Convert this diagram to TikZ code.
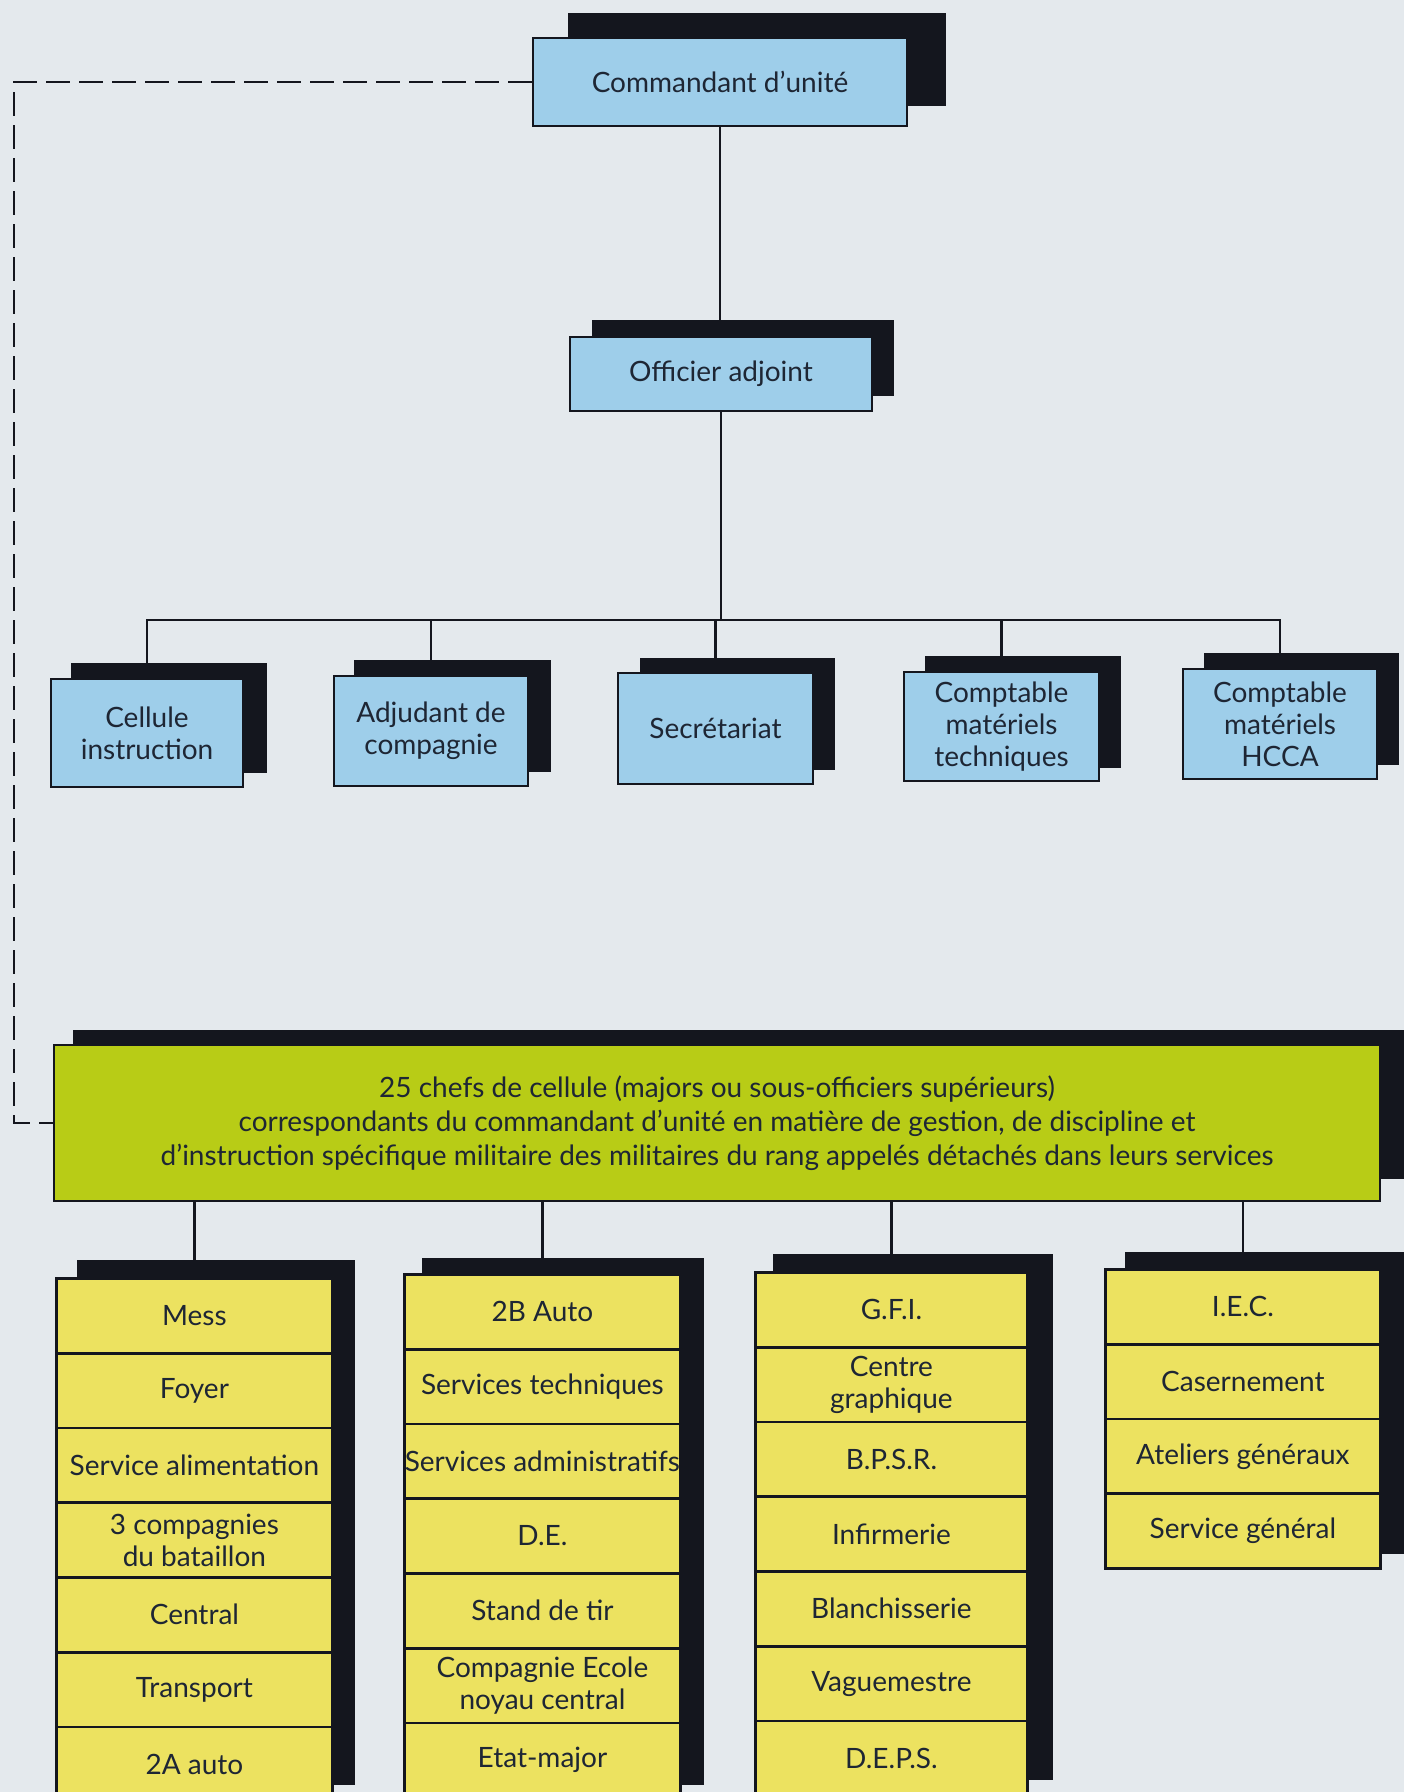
\documentclass[tikz,border=0pt]{standalone}
\usepackage{fontspec}
\setmainfont{Lato}
\definecolor{bgc}{RGB}{228,233,237}
\definecolor{bluec}{RGB}{158,206,234}
\definecolor{greenc}{RGB}{184,204,22}
\definecolor{yellowc}{RGB}{236,226,96}
\definecolor{inkc}{RGB}{20,22,30}
\definecolor{txtc}{RGB}{30,38,52}
\newcommand\boxfont{\fontsize{28}{32}\selectfont}
\pgfdeclarelayer{backlayer}
\pgfdeclarelayer{linklayer}
\pgfsetlayers{backlayer,linklayer,main}
\tikzset{
  box/.style={draw=inkc, line width=2.8pt, text=txtc, align=center, inner sep=0pt, font=\boxfont},
  bluebox/.style={box, fill=bluec},
  greenbox/.style={box, fill=greenc},
  cell/.style={box, fill=yellowc, anchor=north west, minimum height=74.75},
  shadowfill/.style={fill=inkc},
  link/.style={draw=inkc, line width=2.4pt},
  dashlink/.style={link, dash pattern=on 24pt off 9pt},
}
\begin{document}
\begin{tikzpicture}[x=1pt,y=-1pt]
\useasboundingbox (0,0) rectangle (1404,1792);
\clip (0,0) rectangle (1404,1792);
\begin{pgfonlayer}{backlayer}
\fill[bgc] (0,0) rectangle (1404,1792);
\end{pgfonlayer}

% top
\fill[shadowfill] (568,13) rectangle (946,106);
\node[bluebox, minimum width=374, minimum height=88] (cmd) at (720,82) {Commandant d'unité};
\fill[shadowfill] (592,320) rectangle (894,396);
\node[bluebox, minimum width=302, minimum height=74] (off) at (721,374) {Officier adjoint};

% second row
\fill[shadowfill] (71,663) rectangle (267,773);
\node[bluebox, minimum width=192, minimum height=108] (b1) at (147,733) {Cellule\\instruction};
\fill[shadowfill] (354,660) rectangle (551,772);
\node[bluebox, minimum width=194, minimum height=110] (b2) at (431,731) {Adjudant de\\compagnie};
\fill[shadowfill] (640,658) rectangle (835,770);
\node[bluebox, minimum width=195, minimum height=111] (b3) at (715.5,728.5) {Secrétariat};
\fill[shadowfill] (925,656) rectangle (1121,768);
\node[bluebox, minimum width=195, minimum height=109] (b4) at (1001.5,726.5) {Comptable\\matériels\\techniques};
\fill[shadowfill] (1204,653) rectangle (1399,765);
\node[bluebox, minimum width=194, minimum height=110] (b5) at (1280,724) {Comptable\\matériels\\HCCA};

% green
\fill[shadowfill] (73,1030) rectangle (1404,1179);
\node[greenbox, minimum width=1326, minimum height=156, font=\fontsize{28}{34}\selectfont] (green) at (717,1123)
 {25 chefs de cellule (majors ou sous-officiers supérieurs)\\
  correspondants du commandant d'unité en matière de gestion, de discipline et\\
  d'instruction spécifique militaire des militaires du rang appelés détachés dans leurs services};

% columns
\fill[shadowfill] (77,1260) rectangle (355,1785);
\begin{scope}[every node/.append style={minimum width=276}]
\foreach \txt [count=\i from 0] in {Mess,Foyer,Service alimentation,{3 compagnies\\du bataillon},Central,Transport,2A auto}
  \node[cell] (a\i) at (55,{1277+74.75*\i}) {\txt};
\end{scope}
\fill[shadowfill] (422,1258) rectangle (704,1785);
\begin{scope}[every node/.append style={minimum width=276}]
\foreach \txt [count=\i from 0] in {2B Auto,Services techniques,Services administratifs,D.E.,Stand de tir,{Compagnie Ecole\\noyau central},Etat-major}
  \node[cell] (c\i) at (403,{1273+74.75*\i}) {\txt};
\end{scope}
\fill[shadowfill] (773,1254) rectangle (1053,1780);
\begin{scope}[every node/.append style={minimum width=272}]
\foreach \txt [count=\i from 0] in {G.F.I.,{Centre\\graphique},B.P.S.R.,Infirmerie,Blanchisserie,Vaguemestre,D.E.P.S.}
  \node[cell] (e\i) at (754,{1271+74.75*\i}) {\txt};
\end{scope}
\fill[shadowfill] (1125,1252) rectangle (1404,1554);
\begin{scope}[every node/.append style={minimum width=275}]
\foreach \txt [count=\i from 0] in {I.E.C.,Casernement,Ateliers généraux,Service général}
  \node[cell] (g\i) at (1104,{1268+74.75*\i}) {\txt};
\end{scope}

% connectors
\begin{pgfonlayer}{linklayer}
\coordinate (bar) at (716,620);
\coordinate (dl) at (14,82);
\draw[link] (cmd.south) -- (cmd.south |- off.north);
\draw[link] (off.south) -- (off.south |- bar);
\draw[link] (b1.north) |- (bar) -| (b5.north);
\draw[link] (b2.north) -- (b2.north |- bar);
\draw[link] (b3.north) -- (b3.north |- bar);
\draw[link] (b4.north) -- (b4.north |- bar);
\draw[dashlink] (cmd.west) -- (dl) |- (green.west);
\draw[link] (a0.north) -- (a0.north |- green.south);
\draw[link] (c0.north) -- (c0.north |- green.south);
\draw[link] (e0.north) -- (e0.north |- green.south);
\draw[link] (g0.north) -- (g0.north |- green.south);
\end{pgfonlayer}
\end{tikzpicture}
\end{document}
